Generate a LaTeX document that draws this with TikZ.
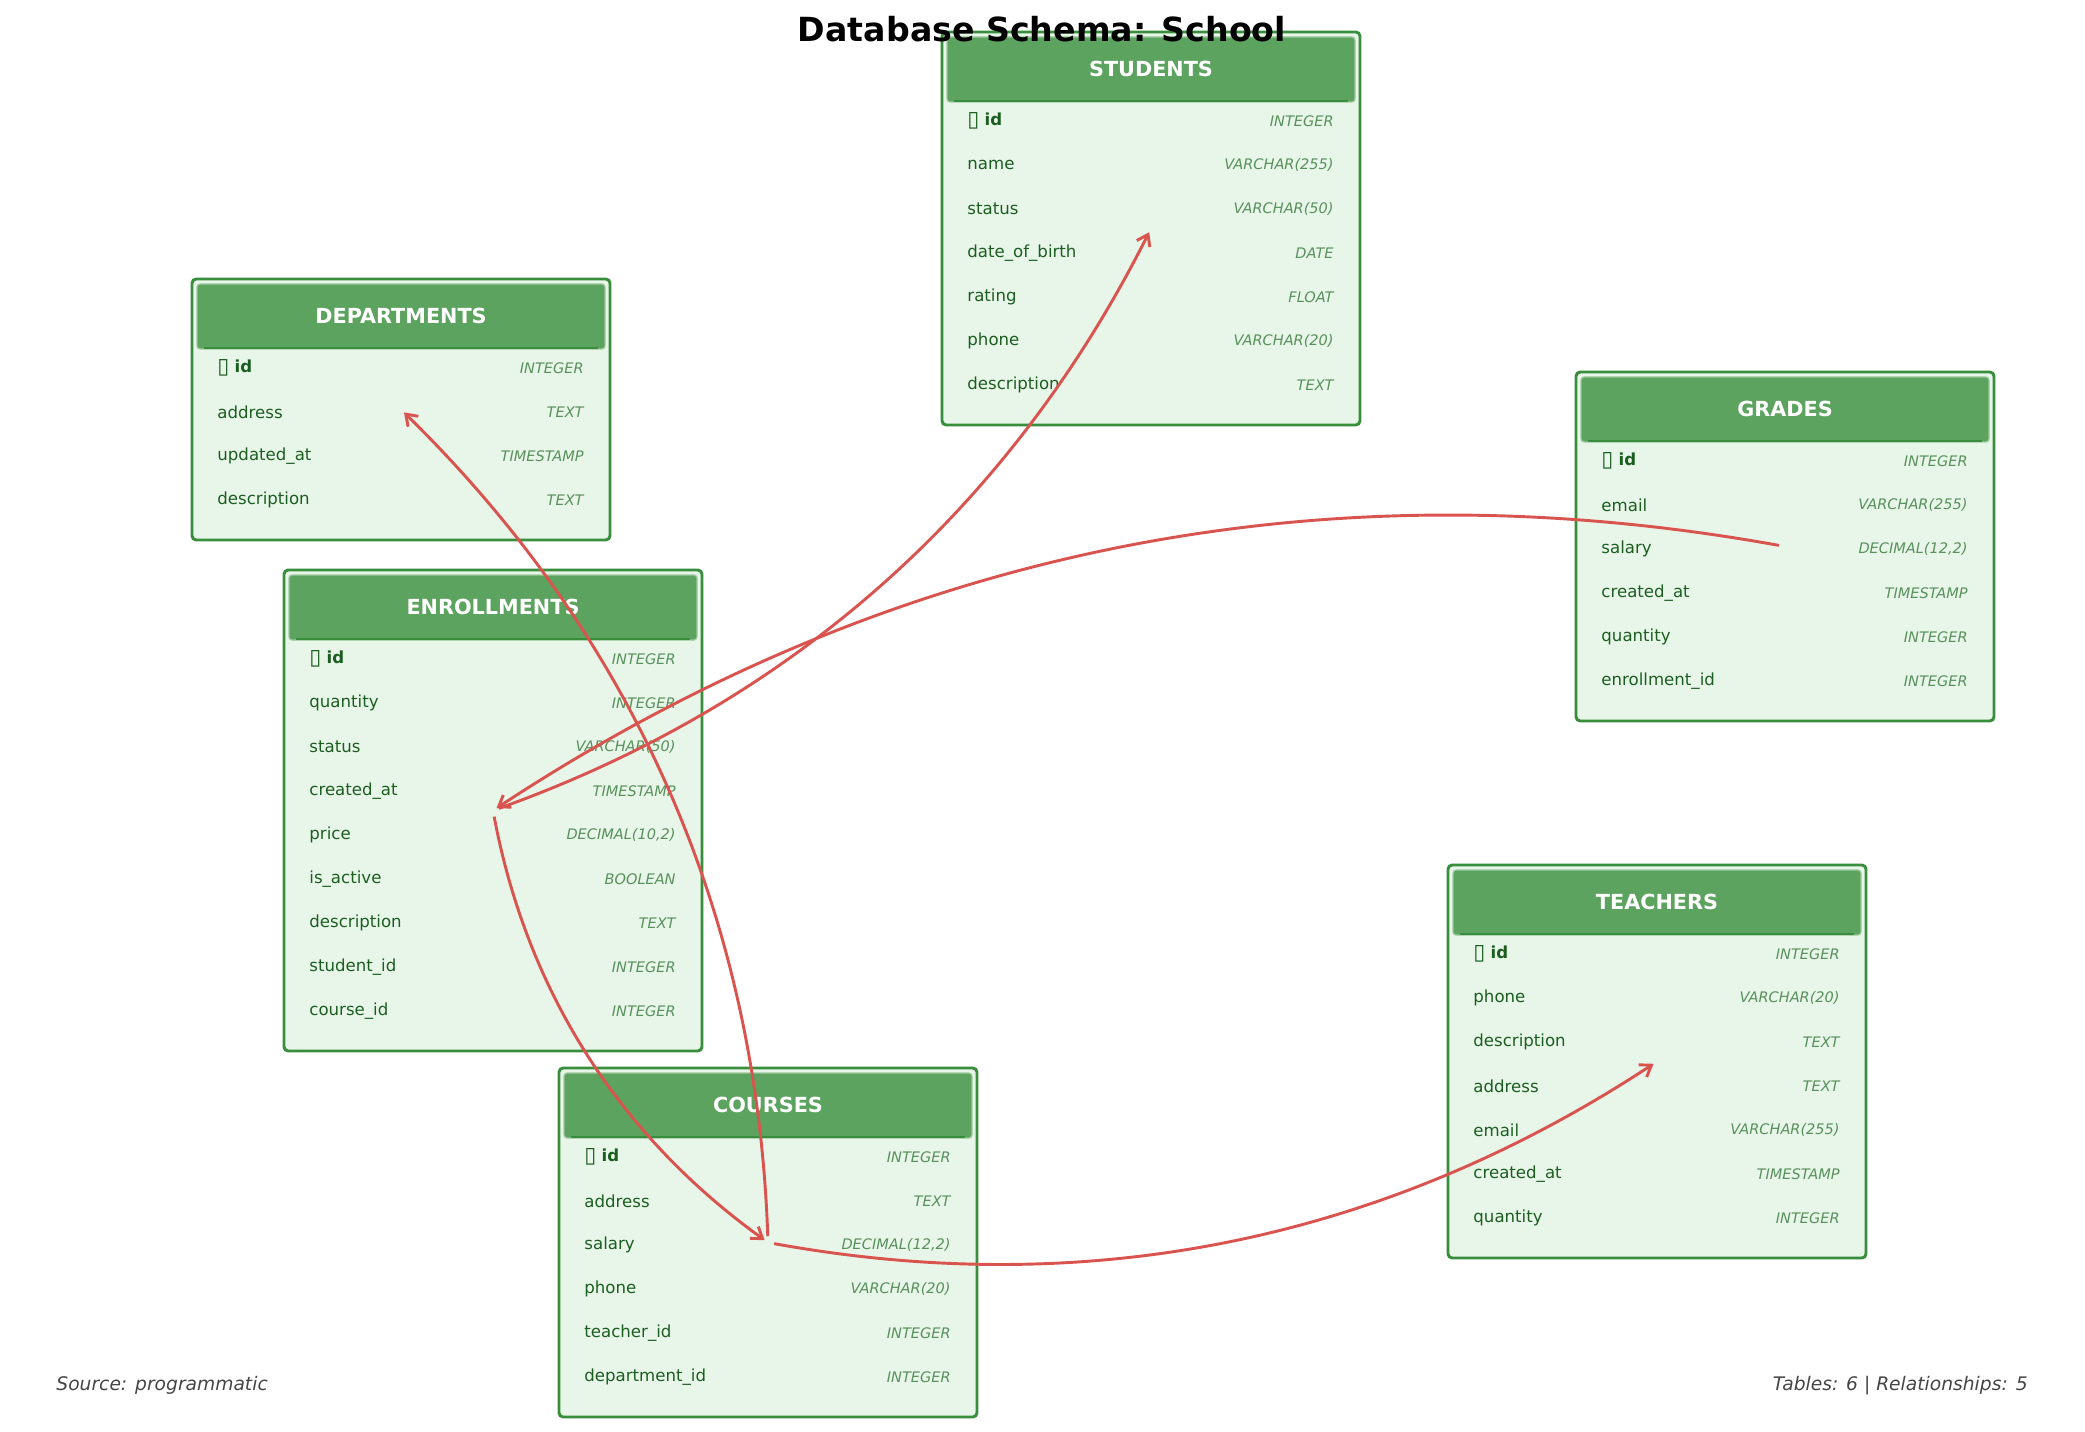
\documentclass[tikz,border=0pt]{standalone}
\usepackage{fontspec}
\setmainfont{DejaVu Sans}
\usetikzlibrary{calc,arrows.meta}
\definecolor{tblborder}{RGB}{56,142,60}
\definecolor{tblhead}{RGB}{91,163,94}
\definecolor{tblbody}{RGB}{232,245,233}
\definecolor{fieldgreen}{RGB}{27,94,32}
\definecolor{typegreen}{RGB}{88,145,92}
\definecolor{relred}{RGB}{217,83,79}
\tikzset{
  tablebox/.style={draw=tblborder, fill=tblbody, line width=1.4bp, rounded corners=2bp},
  headbox/.style={fill=tblhead, draw=tblhead!60!white, line width=0.6bp, rounded corners=1.5bp},
  headline/.style={draw=tblborder, line width=1.2bp},
  headtxt/.style={text=white, font=\fontsize{10}{12}\selectfont\bfseries},
  fieldtxt/.style={text=fieldgreen, font=\fontsize{8}{10}\selectfont, anchor=west, inner sep=0pt},
  typetxt/.style={text=typegreen, font=\fontsize{7}{9}\selectfont\itshape, anchor=east, inner sep=0pt},
  relarrow/.style={draw=relred, line width=1.4bp, -{Straight Barb[length=5bp,width=7bp]}, shorten <=3bp, shorten >=2bp},
  foottxt/.style={text=black!73, font=\fontsize{9}{11}\selectfont\itshape, inner sep=0pt}
}
\newcommand{\pkid}{\raisebox{-0.6bp}{\fontsize{10.5}{12}\selectfont ▯}\ \textbf{id}}
% #1 name, #2 left, #3 top, #4 rows, #5 title, #6 field/type list
\newcommand{\erdtable}[6]{%
  \pgfmathsetmacro{\tblh}{129+44*(#4-1)}
  \draw[tablebox] (#2,#3) rectangle ++(418,\tblh);
  \draw[headbox] (#2+5,#3+5) rectangle ++(408,65);
  \draw[headline] (#2+12,#3+69) -- ++(394,0);
  \node[headtxt] (#1-head) at (#2+209,#3+37) {#5};
  \foreach \f/\t [count=\i from 0] in {#6} {
    \node[fieldtxt] (#1-f\i) at (#2+25,#3+89+44*\i) {\f};
    \node[typetxt] (#1-t\i) at (#2+392,#3+89+44*\i) {\t};
  }
  \coordinate (#1) at (#2+209,#3+\tblh/2);
}
% arc3-like bend between two table centres
\newcommand{\relarc}[2]{%
  \coordinate (#1-#2-c) at ($(#1)!0.5!(#2)!0.4!-90:(#2)$);
  \draw[relarrow] (#1) .. controls ($(#1)!2/3!(#1-#2-c)$) and ($(#2)!2/3!(#1-#2-c)$) .. (#2);
}

\begin{document}
\begin{tikzpicture}[x=0.48bp, y=-0.48bp]
\useasboundingbox[fill=white] (0,0) rectangle (2085,1432);

\erdtable{students}{942}{32}{7}{STUDENTS}{{\pkid}/INTEGER, name/{VARCHAR(255)}, status/{VARCHAR(50)}, date\_of\_birth/DATE, rating/FLOAT, phone/{VARCHAR(20)}, description/TEXT}
\erdtable{departments}{192}{279}{4}{DEPARTMENTS}{{\pkid}/INTEGER, address/TEXT, updated\_at/TIMESTAMP, description/TEXT}
\erdtable{enrollments}{284}{570}{9}{ENROLLMENTS}{{\pkid}/INTEGER, quantity/INTEGER, status/{VARCHAR(50)}, created\_at/TIMESTAMP, price/{DECIMAL(10,2)}, is\_active/BOOLEAN, description/TEXT, student\_id/INTEGER, course\_id/INTEGER}
\erdtable{courses}{559}{1068}{6}{COURSES}{{\pkid}/INTEGER, address/TEXT, salary/{DECIMAL(12,2)}, phone/{VARCHAR(20)}, teacher\_id/INTEGER, department\_id/INTEGER}
\erdtable{grades}{1576}{372}{6}{GRADES}{{\pkid}/INTEGER, email/{VARCHAR(255)}, salary/{DECIMAL(12,2)}, created\_at/TIMESTAMP, quantity/INTEGER, enrollment\_id/INTEGER}
\erdtable{teachers}{1448}{865}{7}{TEACHERS}{{\pkid}/INTEGER, phone/{VARCHAR(20)}, description/TEXT, address/TEXT, email/{VARCHAR(255)}, created\_at/TIMESTAMP, quantity/INTEGER}

% relationships
\relarc{enrollments}{students}
\relarc{grades}{enrollments}
\relarc{enrollments}{courses}
\relarc{courses}{departments}
\relarc{courses}{teachers}

\node[font=\fontsize{16}{19}\selectfont\bfseries, anchor=base] (title) at (1042,42) {Database Schema: School};
\node[foottxt, anchor=base west] (source) at (56,1390) {Source: programmatic};
\node[foottxt, anchor=base east] (stats) at (2028,1390) {Tables: 6 | Relationships: 5};
\end{tikzpicture}
\end{document}
